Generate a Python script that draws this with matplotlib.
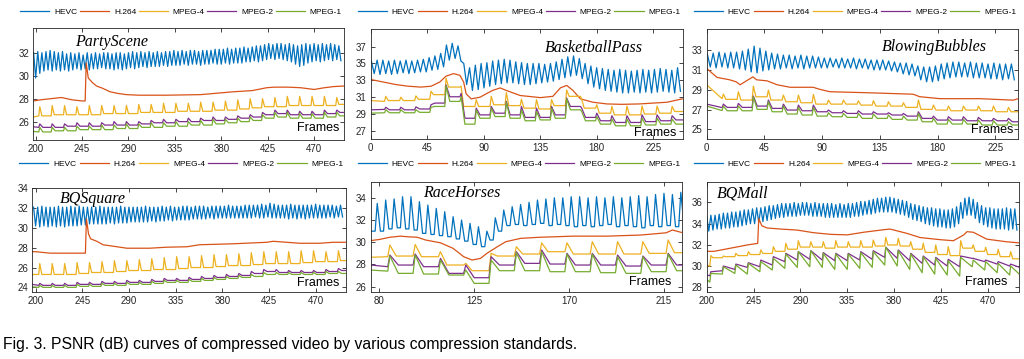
import matplotlib
matplotlib.use("Agg")
import matplotlib.pyplot as plt

plt.rcParams["font.family"] = ["Liberation Sans", "DejaVu Sans"]

SERIES = ["HEVC", "H.264", "MPEG-4", "MPEG-2", "MPEG-1"]
COLORS = ["#0072BD", "#D95319", "#EDB120", "#7E2F8E", "#77AC30"]

# ---------------- PartyScene ----------------
PS_HEVC_PEAK = [32.0, 32.1, 32.0, 32.1, 32.2, 32.1, 32.0, 32.1, 31.9, 32.0,
                31.9, 32.0, 31.8, 32.0, 31.9, 32.0, 31.9, 32.0, 32.0, 31.9,
                32.0, 32.0, 31.9, 32.0, 32.1, 32.0, 32.1, 32.0, 32.1, 32.0,
                32.1, 32.0, 32.1, 32.1, 32.2, 32.1, 32.2, 32.1, 32.2, 32.2,
                32.1, 32.2, 32.2, 32.2, 32.3, 32.3, 32.3, 32.4, 32.3, 32.4,
                32.4, 32.5, 32.4, 32.5, 32.6, 32.6, 32.7, 32.8, 32.7, 32.8,
                32.8, 32.7, 32.8, 32.7, 32.6, 32.7, 32.8, 32.7, 32.8, 32.7,
                32.8, 32.7, 32.8, 32.7, 32.6]
PS_HEVC_TROUGH = [29.8, 30.2, 30.4, 30.5, 30.4, 30.5, 30.4, 30.5, 30.4, 30.5,
                  30.6, 30.5, 30.6, 30.5, 30.6, 30.6, 30.7, 30.6, 30.6, 30.5,
                  30.6, 30.5, 30.6, 30.7, 30.6, 30.7, 30.8, 30.7, 30.8, 30.8,
                  30.8, 30.9, 30.8, 30.9, 30.9, 30.9, 31.0, 30.9, 31.0, 31.0,
                  30.9, 31.0, 31.0, 31.1, 31.0, 31.0, 31.1, 31.0, 31.1, 31.1,
                  31.1, 31.2, 31.2, 31.3, 31.2, 31.3, 31.4, 31.5, 31.4, 31.5,
                  31.4, 31.3, 31.2, 31.0, 30.8, 30.9, 31.1, 31.2, 31.3, 31.2,
                  31.3, 31.4, 31.3, 31.4, 31.3]
PS_H264_F = [198, 205, 215, 225, 235, 245, 248, 249, 251, 255, 259, 265, 272, 280,
             288, 300, 327, 360, 392, 410, 424, 431, 445, 457, 470, 480, 489, 499]
PS_H264_V = [27.8, 27.9, 28.0, 28.1, 27.9, 27.8, 27.8, 31.1, 29.8, 29.4, 29.1, 28.9,
             28.6, 28.45, 28.35, 28.3, 28.3, 28.35, 28.6, 28.7, 28.95, 29.0, 29.0,
             28.95, 28.8, 28.95, 29.05, 29.1]
PS_MP4_LEAD = [26.4, 26.5]
PS_MP4_SPIKE = [27.3, 27.4, 27.4, 27.3, 27.4, 27.4, 27.4, 27.4, 27.5, 27.5, 27.6, 27.6,
                27.6, 27.7, 27.7, 27.8, 27.9, 28.0, 28.0, 28.1, 28.2, 28.2, 28.2, 28.2, 28.1]
PS_MP4_BASE = [26.5, 26.6, 26.6, 26.6, 26.6, 26.7, 26.7, 26.7, 26.8, 26.8, 26.8, 26.9,
               26.9, 26.9, 27.0, 27.0, 27.1, 27.2, 27.3, 27.3, 27.4, 27.4, 27.4, 27.4, 27.5]
PS_MP2_LEAD = [25.55, 25.5]
PS_MP2_SPIKE = [25.8, 25.8, 25.8, 25.9, 25.9, 25.9, 26.0, 26.0, 26.0, 26.1, 26.2, 26.2,
                26.3, 26.3, 26.4, 26.4, 26.5, 26.6, 26.8, 27.0, 27.0, 26.9, 26.9, 27.0, 27.0]
PS_MP2_BASE = [25.5, 25.5, 25.6, 25.6, 25.6, 25.7, 25.7, 25.7, 25.8, 25.9, 25.9, 26.0,
               26.0, 26.1, 26.1, 26.2, 26.3, 26.4, 26.6, 26.7, 26.6, 26.6, 26.6, 26.7, 26.8]
PS_MP1_LEAD = [25.15, 25.1]
PS_MP1_SPIKE = [25.5, 25.5, 25.5, 25.6, 25.6, 25.7, 25.7, 25.8, 25.8, 25.9, 25.9, 26.0,
                26.0, 26.1, 26.2, 26.2, 26.3, 26.4, 26.6, 26.8, 26.8, 26.7, 26.7, 26.8, 26.8]
PS_MP1_BASE = [25.1, 25.2, 25.2, 25.3, 25.3, 25.3, 25.4, 25.4, 25.5, 25.5, 25.6, 25.6,
               25.7, 25.7, 25.8, 25.9, 26.0, 26.1, 26.3, 26.4, 26.3, 26.3, 26.3, 26.4, 26.5]

# ---------------- BasketballPass ----------------
BP_HEVC_PEAK = [35.3, 35.4, 35.4, 35.3, 35.4, 35.3, 35.4, 35.3, 35.4, 35.5,
                35.7, 35.9, 36.2, 37.2, 37.4, 37.1, 35.0, 34.5, 34.8, 35.0,
                35.1, 35.3, 35.4, 35.5, 35.4, 35.2, 35.1, 35.0, 35.0, 35.0,
                34.9, 35.0, 35.2, 35.5, 35.8, 35.9, 35.6, 35.0, 34.7, 34.5,
                34.4, 34.3, 34.2, 34.3, 34.2, 34.1, 34.2, 34.3, 34.2, 34.3,
                34.4, 34.3, 34.2, 34.5]
BP_HEVC_TROUGH = [33.8, 33.7, 33.8, 33.7, 33.8, 33.9, 33.8, 33.9, 34.0, 34.0,
                  34.2, 34.3, 34.6, 35.4, 35.6, 35.3, 32.5, 31.8, 31.9, 32.1,
                  32.3, 32.5, 32.6, 32.7, 32.7, 32.6, 32.5, 32.5, 32.6, 32.7,
                  32.8, 32.9, 33.1, 33.3, 33.5, 33.6, 33.2, 32.6, 32.2, 32.0,
                  31.8, 31.7, 31.6, 31.5, 31.5, 31.6, 31.5, 31.6, 31.5, 31.6,
                  31.7, 31.6, 31.5, 31.7]
BP_H264_F = [0, 10, 20, 30, 40, 48, 55, 60, 66, 71, 74, 76, 80, 87, 97, 103, 108, 119,
             135, 145, 151, 156, 161, 167, 177, 188, 200, 214, 225, 236, 248]
BP_H264_V = [33.1, 32.8, 32.5, 32.3, 32.2, 32.3, 32.8, 33.5, 33.8, 33.6, 32.8, 31.4,
             30.8, 31.0, 31.8, 32.1, 31.8, 31.2, 30.95, 31.1, 32.1, 32.4, 31.8, 30.8,
             30.4, 30.2, 30.15, 30.2, 30.3, 30.4, 30.8]
BP_MP4_LEAD = [30.6, 30.5]
BP_MP4_SPIKE = [31.1, 31.0, 31.15, 31.7, 33.25, 32.3, 30.7, 31.1, 31.55, 30.75,
                30.7, 30.7, 31.85, 30.75, 30.1, 29.9, 29.95, 29.95, 29.95, 29.9]
BP_MP4_BASE = [30.6, 30.6, 30.75, 31.3, 32.2, 29.9, 29.9, 30.1, 30.0, 29.7,
               29.6, 30.0, 31.1, 29.7, 29.1, 28.9, 28.9, 29.0, 29.1, 29.3]
BP_MP2_LEAD = [29.5, 29.55]
BP_MP2_SPIKE = [29.8, 29.8, 29.85, 30.1, 32.45, 31.45, 29.7, 29.9, 30.5, 29.9,
                29.7, 29.9, 30.9, 29.7, 29.1, 28.8, 28.8, 28.9, 28.9, 28.8]
BP_MP2_BASE = [29.5, 29.5, 29.6, 30.3, 31.05, 28.5, 28.9, 29.1, 28.9, 28.6,
               28.6, 28.9, 29.9, 28.6, 28.2, 28.0, 28.0, 28.1, 28.2, 28.3]
BP_MP1_LEAD = [29.1, 29.15]
BP_MP1_SPIKE = [29.5, 29.5, 29.5, 29.8, 32.35, 31.05, 29.5, 29.7, 30.4, 29.5,
                29.3, 29.7, 30.8, 29.3, 28.7, 28.4, 28.4, 28.5, 28.5, 28.4]
BP_MP1_BASE = [29.15, 29.15, 29.2, 29.9, 30.5, 27.8, 28.5, 28.7, 28.5, 28.2,
               28.3, 28.5, 29.5, 28.2, 27.8, 27.6, 27.6, 27.7, 27.8, 27.8]

# ---------------- BlowingBubbles ----------------
BB_HEVC_PEAK = [32.6, 32.7, 32.8, 32.7, 32.8, 32.8, 32.9, 33.1, 33.4, 33.2,
                32.9, 32.7, 32.6, 32.5, 32.5, 32.4, 32.5, 32.4, 32.4, 32.3,
                32.2, 32.2, 32.1, 32.2, 32.1, 32.2, 32.1, 32.1, 32.0, 32.0,
                32.0, 31.9, 31.8, 31.7, 31.7, 31.6, 31.4, 31.3, 31.3, 31.4,
                31.6, 31.7, 31.8, 31.8, 31.7, 31.8, 31.7, 31.7, 31.6, 31.7,
                31.6, 31.6, 31.6]
BB_HEVC_TROUGH = [31.3, 31.2, 31.3, 31.2, 31.2, 31.1, 31.0, 30.8, 30.7, 30.9,
                  31.0, 31.1, 31.1, 31.2, 31.1, 31.2, 31.1, 31.2, 31.2, 31.2,
                  31.2, 31.3, 31.2, 31.2, 31.2, 31.1, 31.2, 31.1, 31.0, 31.0,
                  31.0, 30.9, 30.8, 30.6, 30.5, 30.4, 30.0, 29.8, 29.8, 29.9,
                  30.1, 30.2, 30.3, 30.3, 30.3, 30.2, 30.2, 30.2, 30.1, 30.1,
                  30.0, 30.1, 30.0]
BB_H264_F = [0, 8, 18, 23, 26, 31, 36, 39, 47, 55, 65, 83, 88, 96, 125, 161, 166,
             182, 213, 239, 243]
BB_H264_V = [31.15, 30.25, 30.0, 29.8, 29.5, 29.9, 30.3, 30.0, 29.9, 29.5, 29.25,
             29.25, 29.05, 28.8, 28.7, 28.55, 28.3, 28.1, 28.1, 27.95, 28.1]
BB_MP4_LEAD = [29.5, 28.1]
BB_MP4_SPIKE = [28.56, 28.8, 29.37, 28.97, 28.46, 28.46, 28.53, 27.96, 27.96, 27.89,
                27.89, 27.79, 27.69, 27.96, 27.45, 27.35, 27.35, 27.35, 27.35, 27.22]
BB_MP4_BASE = [28.03, 27.96, 28.29, 27.96, 27.79, 27.69, 27.55, 27.55, 27.55, 27.45,
               27.35, 27.35, 27.22, 27.02, 26.95, 26.88, 26.95, 26.88, 26.78, 26.78]
BB_MP2_LEAD = [27.55, 27.2]
BB_MP2_SPIKE = [27.55, 27.62, 28.36, 27.96, 27.55, 27.45, 27.45, 26.95, 26.88, 26.88,
                26.78, 26.68, 26.61, 26.78, 26.34, 26.28, 26.28, 26.21, 26.11, 26.11]
BB_MP2_BASE = [27.22, 27.22, 27.35, 27.12, 26.95, 26.88, 26.78, 26.68, 26.61, 26.55,
               26.55, 26.45, 26.34, 26.11, 25.94, 25.94, 25.87, 25.87, 25.87, 25.77]
BB_MP1_LEAD = [27.35, 26.9]
BB_MP1_SPIKE = [27.35, 27.35, 28.29, 27.79, 27.35, 27.22, 27.22, 26.68, 26.61, 26.61,
                26.55, 26.45, 26.34, 26.61, 26.11, 26.01, 26.01, 25.94, 25.87, 25.77]
BB_MP1_BASE = [26.88, 26.88, 27.02, 26.78, 26.55, 26.45, 26.34, 26.28, 26.21, 26.11,
               26.11, 26.01, 25.94, 25.77, 25.54, 25.54, 25.54, 25.44, 25.44, 25.44]

# ---------------- BQSquare ----------------
BS_HEVC_PEAK = [32.1, 32.1, 32.2, 32.1, 32.1, 32.1, 32.2, 32.1, 32.1, 32.2,
                32.1, 32.2, 32.1, 32.1, 32.1, 32.1, 32.2, 32.1, 32.1, 32.1,
                32.1, 32.2, 32.1, 32.1, 32.1, 32.1, 32.1, 32.2, 32.1, 32.1,
                32.1, 32.2, 32.1, 32.2, 32.1, 32.1, 32.2, 32.2, 32.1, 32.2,
                32.2, 32.2, 32.1, 32.2, 32.2, 32.2, 32.2, 32.3, 32.2, 32.2,
                32.2, 32.3, 32.3, 32.3, 32.3, 32.4, 32.3, 32.5, 32.4, 32.3,
                32.3, 32.3, 32.4, 32.3, 32.3, 32.3, 32.3, 32.3, 32.4, 32.3,
                32.3, 32.3, 32.3, 32.2, 32.3]
BS_HEVC_TROUGH = [30.2, 30.1, 30.2, 30.1, 30.2, 30.1, 30.2, 30.1, 30.2, 30.2,
                  30.2, 30.3, 30.3, 30.4, 30.4, 30.4, 30.4, 30.4, 30.5, 30.4,
                  30.5, 30.5, 30.5, 30.6, 30.6, 30.6, 30.6, 30.6, 30.7, 30.6,
                  30.7, 30.7, 30.8, 30.7, 30.8, 30.8, 30.8, 30.8, 30.9, 30.9,
                  30.9, 30.9, 31.0, 30.9, 31.0, 31.0, 31.0, 31.0, 31.0, 31.0,
                  31.0, 31.0, 31.0, 31.1, 31.0, 31.0, 31.1, 31.0, 31.0, 31.0,
                  31.0, 30.9, 31.0, 30.9, 31.0, 30.9, 31.0, 31.0, 31.0, 31.0,
                  31.0, 31.1, 31.0, 31.1, 31.1]
BS_H264_F = [197, 200, 214, 230, 246, 248, 249, 251, 253, 259, 265, 275, 288, 310,
             326, 346, 358, 391, 423, 429, 455, 474, 487, 499]
BS_H264_V = [27.6, 27.6, 27.45, 27.45, 27.45, 27.45, 30.9, 29.4, 28.9, 28.65, 28.3,
             28.15, 27.95, 27.95, 28.05, 28.1, 28.3, 28.4, 28.55, 28.65, 28.45, 28.45,
             28.55, 28.55]
BS_MP4_LEAD = [25.3, 25.3]
BS_MP4_SPIKE = [26.4, 26.4, 26.4, 26.5, 26.5, 26.6, 26.7, 26.7, 26.8, 26.9, 27.0, 27.1,
                27.1, 27.2, 27.3, 27.3, 27.4, 27.5, 27.6, 27.6, 27.6, 27.7, 27.7, 27.6, 27.7]
BS_MP4_BASE = [25.3, 25.3, 25.3, 25.4, 25.5, 25.5, 25.6, 25.7, 25.7, 25.8, 25.8, 25.9,
               26.0, 26.0, 26.1, 26.2, 26.2, 26.3, 26.4, 26.4, 26.4, 26.5, 26.6, 26.6, 26.7]
BS_MP2_LEAD = [24.3, 24.2]
BS_MP2_SPIKE = [24.4, 24.4, 24.4, 24.5, 24.5, 24.6, 24.6, 24.7, 24.7, 24.8, 24.9, 24.9,
                25.0, 25.1, 25.2, 25.3, 25.4, 25.6, 25.8, 25.8, 25.7, 25.7, 25.7, 25.8, 25.9]
BS_MP2_BASE = [24.2, 24.2, 24.2, 24.3, 24.3, 24.4, 24.4, 24.5, 24.5, 24.6, 24.7, 24.7,
               24.8, 24.9, 25.0, 25.1, 25.2, 25.4, 25.6, 25.5, 25.5, 25.5, 25.5, 25.6, 25.7]
BS_MP1_LEAD = [24.05, 24.0]
BS_MP1_SPIKE = [24.2, 24.2, 24.2, 24.3, 24.3, 24.4, 24.4, 24.5, 24.5, 24.6, 24.7, 24.7,
                24.8, 24.9, 25.0, 25.1, 25.2, 25.3, 25.5, 25.5, 25.5, 25.5, 25.5, 25.6, 25.6]
BS_MP1_BASE = [24.0, 24.0, 24.0, 24.1, 24.1, 24.2, 24.2, 24.3, 24.3, 24.4, 24.5, 24.5,
               24.6, 24.7, 24.8, 24.9, 25.0, 25.1, 25.3, 25.3, 25.3, 25.3, 25.3, 25.4, 25.4]

# ---------------- RaceHorses ----------------
RH_HEVC_LEAD = [31.0, 31.0]
RH_HEVC_PEAK = [33.5, 33.8, 33.9, 34.1, 34.1, 33.65, 33.35, 33.05, 32.75, 32.3, 32.0,
                31.7, 31.4, 31.0, 32.2, 32.9, 33.2, 33.4, 33.6, 33.8, 33.9, 34.0,
                34.0, 34.1, 34.1, 34.0, 34.1, 34.0, 34.1, 34.0, 34.1, 34.2, 34.1,
                34.3, 34.4, 34.3, 34.5]
RH_HEVC_TROUGH = [31.0, 31.2, 31.3, 31.2, 31.1, 30.8, 30.7, 30.6, 30.5, 30.3, 30.1,
                  29.8, 29.6, 30.2, 31.0, 31.5, 31.6, 31.5, 31.6, 31.7, 31.5, 31.6,
                  31.5, 31.4, 31.5, 31.4, 31.5, 31.6, 31.4, 31.5, 31.4, 31.3, 31.5,
                  31.4, 31.5, 31.4, 31.5]
RH_H264_F = [76, 80, 85, 90, 93, 98, 102, 109, 115, 120, 124, 128, 131, 136, 140, 147,
             156, 172, 188, 204, 216, 219, 224]
RH_H264_V = [30.15, 30.25, 30.45, 30.55, 30.5, 30.45, 30.2, 29.95, 29.45, 28.7, 28.4,
             28.55, 29.0, 29.6, 30.05, 30.35, 30.45, 30.55, 30.55, 30.65, 30.85, 31.1, 30.85]
RH_MP4_LEAD = [28.65, 28.7]
RH_MP4_SPIKE = [29.75, 29.8, 29.15, 28.1, 29.0, 29.6, 29.95, 29.95, 30.05, 30.05, 30.05, 30.2]
RH_MP4_BASE = [28.76, 28.7, 27.95, 27.44, 28.76, 28.94, 29.15, 28.94, 28.94, 28.94, 29.0, 29.06]
RH_MP2_LEAD = [27.95, 27.8]
RH_MP2_SPIKE = [28.85, 28.94, 28.55, 27.95, 28.7, 29.15, 29.3, 29.0, 29.0, 28.85, 28.76, 29.0]
RH_MP2_BASE = [27.95, 27.8, 27.2, 26.81, 27.95, 28.1, 28.04, 27.95, 27.95, 27.86, 27.95, 27.95]
RH_MP1_LEAD = [27.5, 27.4]
RH_MP1_SPIKE = [28.76, 28.85, 28.4, 27.5, 28.4, 29.06, 29.15, 28.94, 28.94, 28.7, 28.7, 28.94]
RH_MP1_BASE = [27.2, 27.14, 27.05, 26.3, 27.44, 27.44, 27.35, 27.35, 27.26, 27.2, 27.35, 27.44]

# ---------------- BQMall ----------------
BM_HEVC_PEAK = [34.7, 34.8, 34.8, 34.9, 35.0, 35.0, 35.1, 35.1, 35.2, 35.3,
                35.3, 35.4, 35.5, 35.5, 35.6, 35.7, 35.7, 35.8, 35.9, 35.9,
                35.9, 36.0, 35.9, 36.0, 36.0, 35.9, 36.0, 35.9, 35.9, 35.9,
                35.9, 35.8, 35.9, 35.8, 35.9, 35.9, 36.0, 36.1, 36.1, 36.2,
                36.3, 36.4, 36.4, 36.5, 36.5, 36.4, 36.3, 36.2, 36.1, 35.9,
                35.8, 35.7, 35.6, 35.5, 35.5, 35.4, 35.4, 35.3, 35.3, 35.4,
                35.6, 36.0, 36.4, 36.5, 36.3, 36.0, 35.7, 35.5, 35.5, 35.4,
                35.4, 35.4, 35.5, 35.4, 35.4]
BM_HEVC_TROUGH = [33.3, 33.4, 33.5, 33.5, 33.6, 33.6, 33.7, 33.7, 33.8, 33.9,
                  34.0, 34.0, 34.1, 34.2, 34.3, 34.4, 34.5, 34.6, 34.6, 34.7,
                  34.7, 34.7, 34.8, 34.8, 34.8, 34.7, 34.7, 34.7, 34.6, 34.6,
                  34.6, 34.6, 34.6, 34.6, 34.6, 34.7, 34.7, 34.8, 34.9, 34.9,
                  35.0, 35.1, 35.1, 35.1, 35.1, 35.0, 34.9, 34.8, 34.6, 34.4,
                  34.3, 34.2, 34.0, 33.9, 33.8, 33.7, 33.7, 33.6, 33.6, 33.7,
                  34.0, 34.5, 34.8, 34.8, 34.5, 34.1, 33.9, 33.7, 33.6, 33.5,
                  33.5, 33.5, 33.4, 33.5, 33.4]
BM_H264_F = [200, 207, 223, 239, 249, 250, 253, 258, 271, 287, 303, 319, 335, 351,
             367, 376, 392, 405, 424, 437, 447, 450, 456, 469, 488, 500]
BM_H264_V = [31.4, 31.4, 31.7, 32.0, 32.15, 34.5, 33.8, 33.6, 33.5, 33.4, 33.15, 33.0,
             32.95, 33.2, 33.4, 33.5, 33.1, 32.7, 32.5, 32.4, 32.95, 33.25, 33.2, 32.55,
             32.3, 32.2]
BM_MP4_LEAD = [30.1, 30.0]
BM_MP4_SPIKE = [31.0, 30.96, 31.21, 31.37, 31.53, 31.84, 32.16, 32.41, 32.31, 32.31,
                32.41, 32.31, 32.41, 32.47, 32.72, 32.63, 32.31, 32.16, 32.0, 31.84,
                32.41, 32.0, 31.78, 31.59, 31.37]
BM_MP4_BASE = [30.8, 30.9, 31.0, 31.1, 31.2, 31.4, 31.6, 31.8, 31.8, 31.7, 31.8, 31.8,
               31.8, 31.9, 32.0, 31.9, 31.6, 31.3, 31.1, 31.0, 31.7, 31.4, 31.1, 30.9, 30.7]
BM_MP2_LEAD = [29.15, 29.1]
BM_MP2_SPIKE = [29.48, 30.02, 30.2, 30.33, 30.58, 30.9, 31.21, 31.37, 31.46, 31.28,
                31.21, 31.21, 31.37, 31.46, 31.78, 31.53, 31.21, 30.96, 30.83, 30.65,
                30.96, 30.74, 30.58, 30.43, 30.2]
BM_MP2_BASE = [29.57, 29.7, 29.89, 29.95, 30.11, 30.43, 30.58, 30.65, 30.58, 30.52,
               30.52, 30.58, 30.65, 30.83, 30.74, 30.52, 30.27, 30.11, 30.02, 29.95,
               30.74, 30.43, 30.2, 30.02, 29.8]
BM_MP1_LEAD = [28.7, 28.5]
BM_MP1_SPIKE = [29.32, 29.95, 30.11, 30.27, 30.43, 30.74, 31.15, 31.37, 31.46, 31.21,
                31.15, 31.15, 31.28, 31.37, 31.78, 31.46, 31.15, 30.9, 30.74, 30.52,
                30.83, 30.58, 30.43, 30.27, 30.02]
BM_MP1_BASE = [29.26, 29.32, 29.26, 29.48, 29.64, 29.8, 29.89, 29.95, 29.89, 29.7,
               29.7, 29.8, 29.89, 30.11, 30.02, 29.7, 29.39, 29.26, 29.17, 29.07,
               29.95, 29.64, 29.39, 29.17, 29.0]


def zigzag(start, half, highs, lows):
    # alternate peak / trough vertices
    x, y = [], []
    for k in range(len(highs)):
        x += [start + 2 * k * half, start + (2 * k + 1) * half]
        y += [highs[k], lows[k]]
    return x, y


def sawtooth(x0, lead, first, period, spikes, bases, drop=None):
    # spike at each refresh frame, then fall to the cycle's base value
    x, y = [x0, first - 1], list(lead)
    for k in range(len(spikes)):
        s = first + k * period
        x.append(s)
        y.append(spikes[k])
        if drop is not None:
            x.append(s + drop)
            y.append(bases[k])
        x.append(s + period - 1)
        y.append(bases[k])
    return x, y


def px_box(left, top, right, bottom):
    return [left / 1024, 1 - bottom / 359, (right - left) / 1024, (bottom - top) / 359]


T_STD = [200, 245, 290, 335, 380, 425, 470]
T_D = [0, 45, 90, 135, 180, 225]

panels = [
    dict(name="PartyScene", box=(33.3, 28, 344, 140), leg_y=12, xlim=(197.7, 499),
         ylim=(24.4, 34.15), xt=T_STD, yt=[26, 28, 30, 32], tpos=(0.134, 0.878),
         fpos=(0.985, 0.11),
         hevc=zigzag(198, 2, PS_HEVC_PEAK, PS_HEVC_TROUGH),
         h264=(PS_H264_F, PS_H264_V),
         mp4=sawtooth(197.7, PS_MP4_LEAD, 204, 12, PS_MP4_SPIKE, PS_MP4_BASE, 2),
         mp2=sawtooth(197.7, PS_MP2_LEAD, 204, 12, PS_MP2_SPIKE, PS_MP2_BASE, 3),
         mp1=sawtooth(197.7, PS_MP1_LEAD, 204, 12, PS_MP1_SPIKE, PS_MP1_BASE, 3)),
    dict(name="BasketballPass", box=(370.7, 29.3, 682.7, 139.3), leg_y=12, xlim=(0, 248.4),
         ylim=(26.0, 39.06), xt=T_D, yt=[27, 29, 31, 33, 35, 37], tpos=(0.559, 0.833),
         fpos=(0.981, 0.06),
         hevc=zigzag(0.5, 2.3, BP_HEVC_PEAK, BP_HEVC_TROUGH),
         h264=(BP_H264_F, BP_H264_V),
         mp4=sawtooth(0, BP_MP4_LEAD, 12, 12, BP_MP4_SPIKE, BP_MP4_BASE, 2),
         mp2=sawtooth(0, BP_MP2_LEAD, 12, 12, BP_MP2_SPIKE, BP_MP2_BASE, 3),
         mp1=sawtooth(0, BP_MP1_LEAD, 12, 12, BP_MP1_SPIKE, BP_MP1_BASE, 3)),
    dict(name="BlowingBubbles", box=(706.7, 29.3, 1018.3, 139.3), leg_y=12, xlim=(0, 243),
         ylim=(24.0, 35.1), xt=T_D, yt=[25, 27, 29, 31, 33], tpos=(0.562, 0.842),
         fpos=(0.984, 0.085),
         hevc=zigzag(0.5, 2.28, BB_HEVC_PEAK, BB_HEVC_TROUGH),
         h264=(BB_H264_F, BB_H264_V),
         mp4=sawtooth(0, BB_MP4_LEAD, 13, 11.7, BB_MP4_SPIKE, BB_MP4_BASE, 2),
         mp2=sawtooth(0, BB_MP2_LEAD, 13, 11.7, BB_MP2_SPIKE, BB_MP2_BASE, 3),
         mp1=sawtooth(0, BB_MP1_LEAD, 13, 11.7, BB_MP1_SPIKE, BB_MP1_BASE, 3)),
    dict(name="BQSquare", box=(32.3, 188.3, 345.7, 291.7), leg_y=164, xlim=(196.8, 499),
         ylim=(23.56, 34.0), xt=T_STD, yt=[24, 26, 28, 30, 32, 34], tpos=(0.088, 0.894),
         fpos=(0.98, 0.087),
         hevc=zigzag(198, 2, BS_HEVC_PEAK, BS_HEVC_TROUGH),
         h264=(BS_H264_F, BS_H264_V),
         mp4=sawtooth(196.8, BS_MP4_LEAD, 204, 12, BS_MP4_SPIKE, BS_MP4_BASE, 2),
         mp2=sawtooth(196.8, BS_MP2_LEAD, 204, 12, BS_MP2_SPIKE, BS_MP2_BASE, 3),
         mp1=sawtooth(196.8, BS_MP1_LEAD, 204, 12, BS_MP1_SPIKE, BS_MP1_BASE, 3)),
    dict(name="RaceHorses", box=(370.7, 181.7, 682.3, 291.7), leg_y=164, xlim=(75.9, 223.7),
         ylim=(25.55, 35.45), xt=[80, 125, 170, 215], yt=[26, 28, 30, 32, 34],
         tpos=(0.167, 0.895), fpos=(0.964, 0.091),
         hevc=sawtooth(75.9, RH_HEVC_LEAD, 79, 4, RH_HEVC_PEAK, RH_HEVC_TROUGH, 1.5),
         h264=(RH_H264_F, RH_H264_V),
         mp4=sawtooth(75.9, RH_MP4_LEAD, 85, 12, RH_MP4_SPIKE, RH_MP4_BASE, 3),
         mp2=sawtooth(75.9, RH_MP2_LEAD, 85, 12, RH_MP2_SPIKE, RH_MP2_BASE, 4),
         mp1=sawtooth(75.9, RH_MP1_LEAD, 85, 12, RH_MP1_SPIKE, RH_MP1_BASE, 4)),
    dict(name="BQMall", box=(706.7, 182.3, 1019, 291.7), leg_y=164, xlim=(200.6, 500),
         ylim=(27.6, 37.9), xt=T_STD, yt=[28, 30, 32, 34, 36], tpos=(0.032, 0.9),
         fpos=(0.963, 0.091),
         hevc=zigzag(200, 2, BM_HEVC_PEAK, BM_HEVC_TROUGH),
         h264=(BM_H264_F, BM_H264_V),
         mp4=sawtooth(200.6, BM_MP4_LEAD, 204, 12, BM_MP4_SPIKE, BM_MP4_BASE, 2),
         mp2=sawtooth(200.6, BM_MP2_LEAD, 204, 12, BM_MP2_SPIKE, BM_MP2_BASE),
         mp1=sawtooth(200.6, BM_MP1_LEAD, 204, 12, BM_MP1_SPIKE, BM_MP1_BASE)),
]

fig = plt.figure(figsize=(10.24, 3.59), dpi=100)

for p in panels:
    ax = fig.add_axes(px_box(*p["box"]))
    lines = []
    for key, label, color in zip(["hevc", "h264", "mp4", "mp2", "mp1"], SERIES, COLORS):
        xs, ys = p[key]
        ln, = ax.plot(xs, ys, color=color, lw=0.9, label=label)
        lines.append(ln)
    ax.set_xlim(*p["xlim"])
    ax.set_ylim(*p["ylim"])
    ax.set_xticks(p["xt"])
    ax.set_yticks(p["yt"])
    ax.tick_params(direction="in", length=3, width=0.6, top=True, right=True,
                   labelsize=7, pad=3, colors="#262626")
    for sp in ax.spines.values():
        sp.set_linewidth(0.6)
        sp.set_color("#262626")
    ax.text(p["tpos"][0], p["tpos"][1], p["name"], transform=ax.transAxes,
            family=["Liberation Serif", "DejaVu Serif"], style="italic",
            fontsize=11.5, ha="left", va="center")
    ax.text(p["fpos"][0], p["fpos"][1], "Frames", transform=ax.transAxes,
            fontsize=9, ha="right", va="center")

    left, top, right, bottom = p["box"]
    ax.legend(handles=lines, loc="center", ncol=5, mode="expand", frameon=False,
              bbox_to_anchor=((left - 13) / 1024, 1 - p["leg_y"] / 359,
                              (right - left + 11) / 1024, 0),
              bbox_transform=fig.transFigure, fontsize=6, handlelength=3.5,
              handletextpad=0.6, borderaxespad=0, borderpad=0, columnspacing=0.5)

fig.text(3 / 1024, 1 - 345 / 359,
         "Fig. 3. PSNR (dB) curves of compressed video by various compression standards.",
         fontsize=11.3, ha="left", va="center")

fig.savefig("out.png", dpi=100)
plt.close(fig)
